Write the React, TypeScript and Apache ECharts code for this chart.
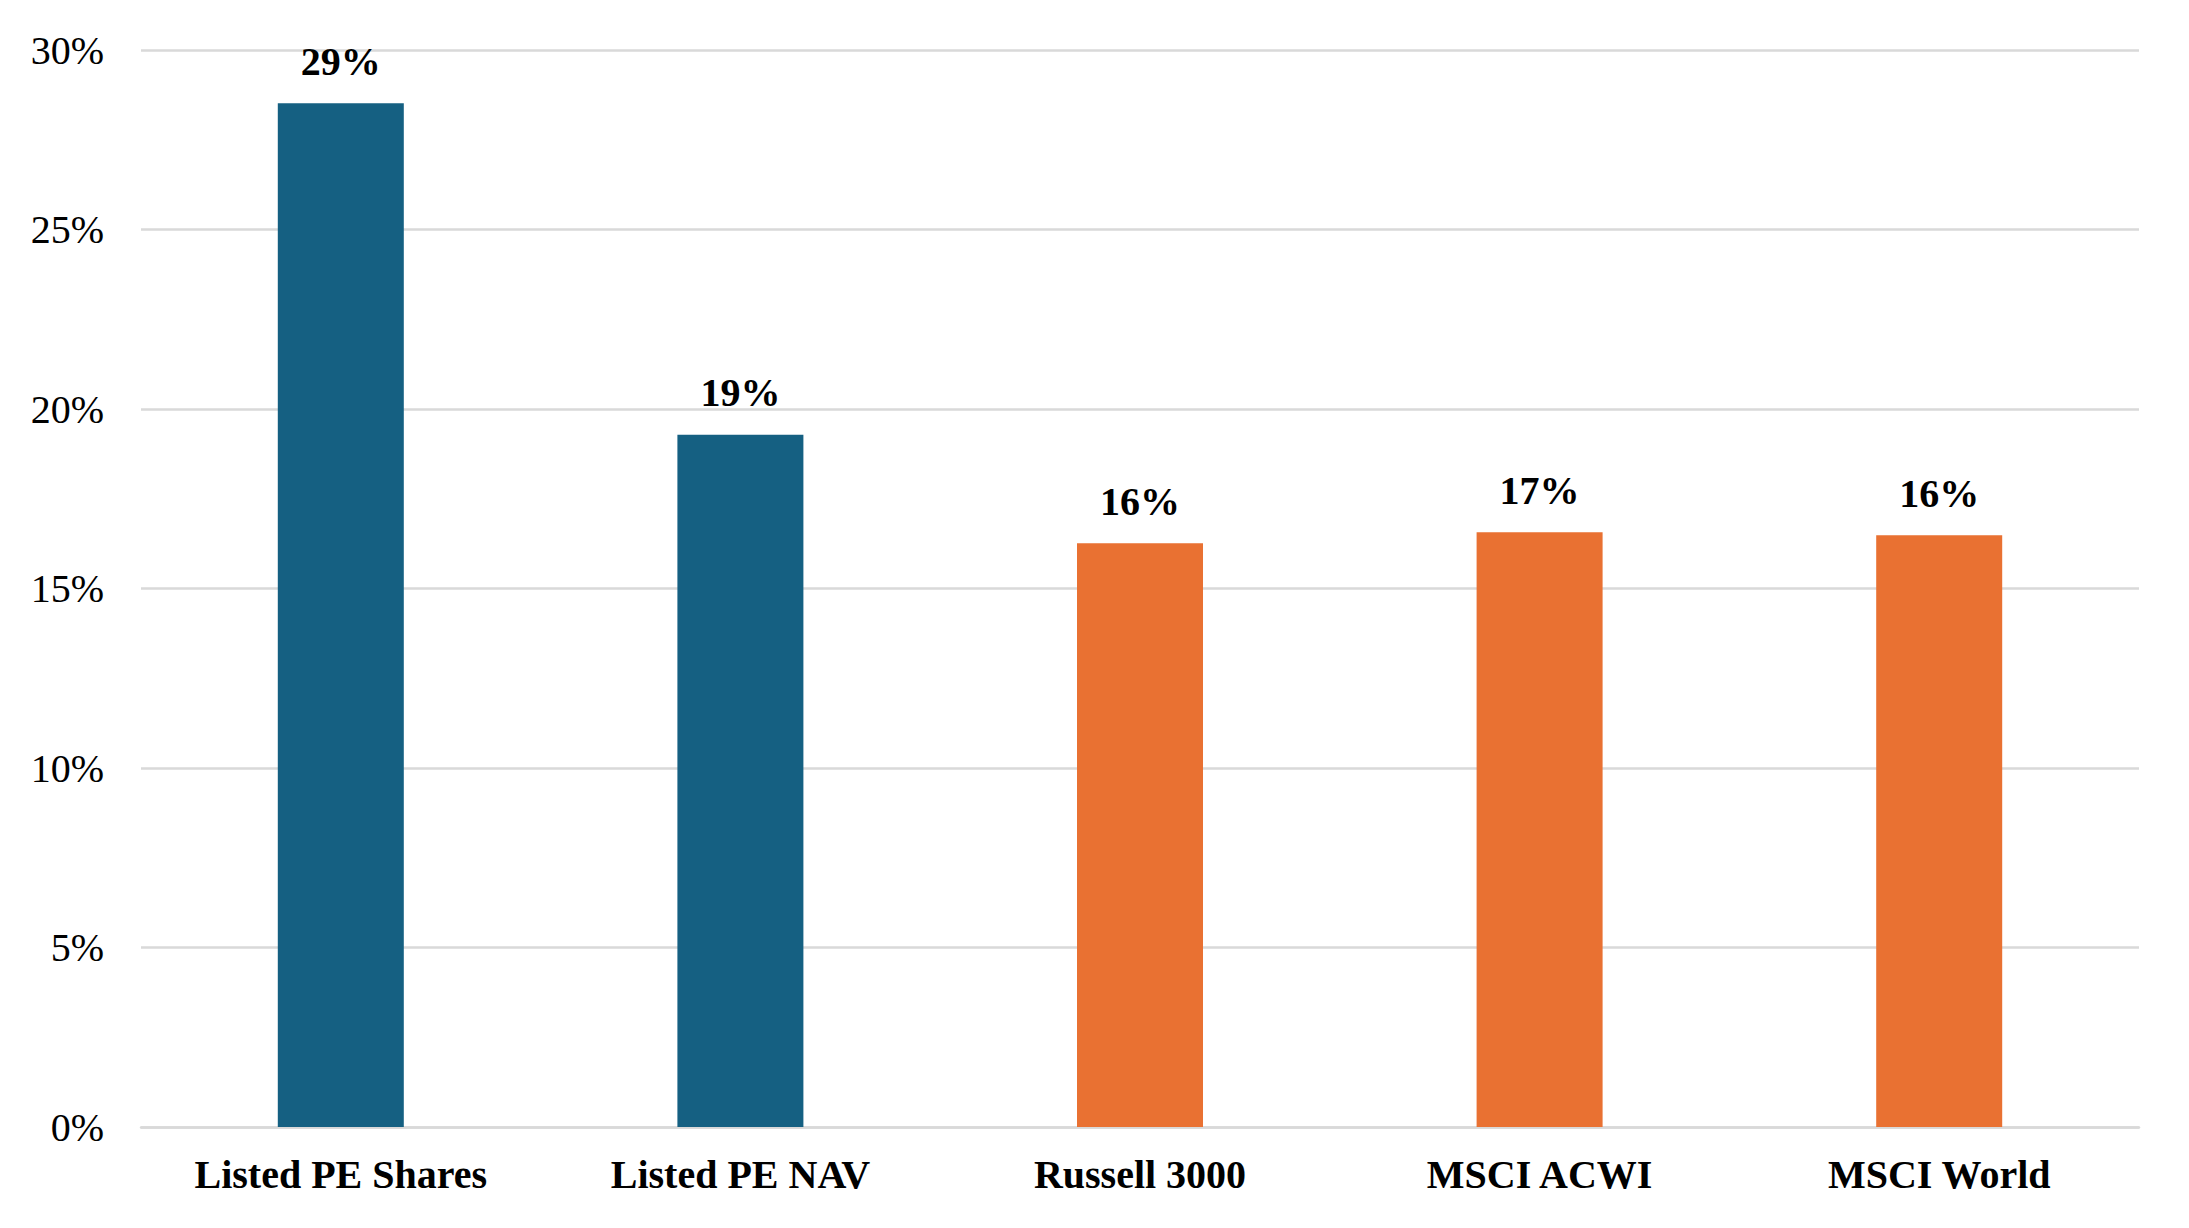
import React, { useEffect, useRef } from "react";
import * as echarts from "echarts";

const categories = ["Listed PE Shares", "Listed PE NAV", "Russell 3000", "MSCI ACWI", "MSCI World"];
const values = [28.52, 19.28, 16.26, 16.57, 16.48];
const barColors = ["#156082", "#156082", "#E97132", "#E97132", "#E97132"];
const yTicks = { min: 0, max: 30, interval: 5 };

export default function App() {
  const ref = useRef<HTMLDivElement>(null);
  useEffect(() => {
    document.body.style.margin = "0";
    const chart = echarts.init(ref.current!, null, { renderer: "svg" });
    const font = "'Liberation Serif', 'Times New Roman', serif";
    chart.setOption({
      animation: false,
      backgroundColor: "#ffffff",
      grid: { left: 141, right: 50, top: 50, bottom: 101, containLabel: false },
      xAxis: {
        type: "category",
        data: categories,
        axisLine: { show: true, lineStyle: { color: "#D9D9D9", width: 2.5 } },
        axisTick: { show: false },
        axisLabel: {
          color: "#000",
          fontFamily: font,
          fontWeight: "bold",
          fontSize: 40,
          margin: 27,
          interval: 0,
        },
      },
      yAxis: {
        type: "value",
        min: yTicks.min,
        max: yTicks.max,
        interval: yTicks.interval,
        axisLine: { show: false },
        axisTick: { show: false },
        splitLine: { lineStyle: { color: "#D9D9D9", width: 2.5 } },
        axisLabel: {
          color: "#000",
          fontFamily: font,
          fontSize: 40,
          margin: 37,
          formatter: "{value}%",
        },
      },
      series: [
        {
          type: "bar",
          barWidth: 126,
          data: values.map((v, i) => ({ value: v, itemStyle: { color: barColors[i] } })),
          label: {
            show: true,
            position: "top",
            distance: 22,
            color: "#000",
            fontFamily: font,
            fontWeight: "bold",
            fontSize: 40,
            formatter: (p: any) => `${Math.round(p.value)}%`,
          },
        },
      ],
    });
    return () => chart.dispose();
  }, []);
  return <div ref={ref} style={{ position: "absolute", left: 0, top: 0, width: 2189, height: 1228 }} />;
}
